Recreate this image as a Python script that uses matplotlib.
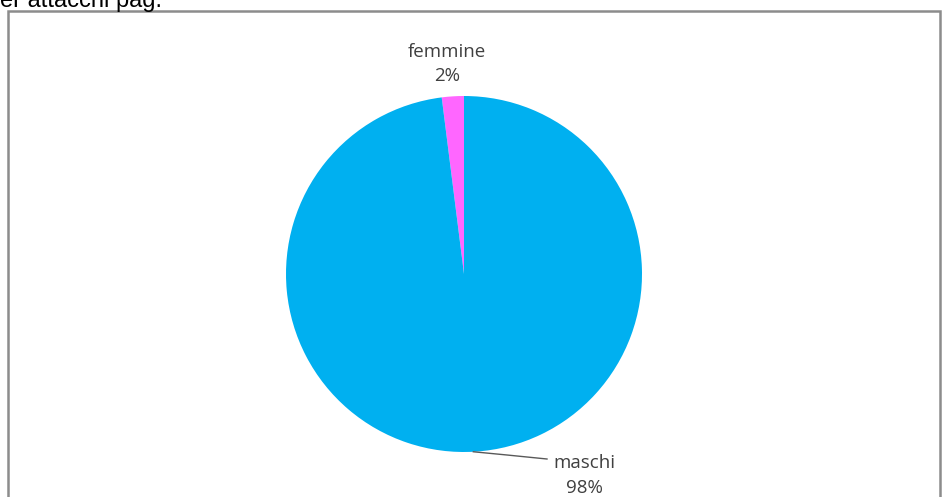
import numpy as np
import matplotlib.pyplot as plt
from matplotlib.patches import Rectangle

categorie = ["femmine", "maschi"]
valori = [2, 98]
colori = ["#FF66FF", "#00B0F0"]

W, H = 942, 497
fig = plt.figure(figsize=(W / 100, H / 100), dpi=100)
ax = fig.add_axes([0, 0, 1, 1])

# testo tagliato in alto (riga del documento sopra il grafico)
fig.text(0.0, 1.0 - 7 / H, "er attacchi pag.", fontsize=17, color="black",
         family="Liberation Sans", va="baseline", ha="left")

# cornice grigia del grafico
ax.add_patch(Rectangle((8, -10), W - 10, H - 11 + 10, fill=False,
                       edgecolor="#8c8c8c", linewidth=1.8, clip_on=False))

cx, cy, r = 464, H - 274, 178
ax.pie(valori, colors=colori, startangle=90, counterclock=True,
       center=(cx, cy), radius=r, frame=True,
       wedgeprops=dict(linewidth=0))
ax.set_xlim(0, W)
ax.set_ylim(0, H)
ax.set_aspect("equal")
ax.axis("off")

perc = [v / sum(valori) * 100 for v in valori]
font = dict(family="Open Sans", fontsize=13.5, color="#404040", ha="center")

ax.text(447, H - 52, categorie[0], va="center", **font)
ax.text(447, H - 76, f"{perc[0]:.0f}%", va="center", **font)

ax.text(584, H - 463, categorie[1], va="center", **font)
ax.text(584, H - 488, f"{perc[1]:.0f}%", va="center", **font)

# linea guida per "maschi"
ang = np.deg2rad(-87)
x0, y0 = cx + r * np.cos(ang), cy + r * np.sin(ang)
ax.plot([x0, 507, 547], [y0, H - 455, H - 459], color="#595959", linewidth=1)

fig.savefig("out.png", dpi=100)
